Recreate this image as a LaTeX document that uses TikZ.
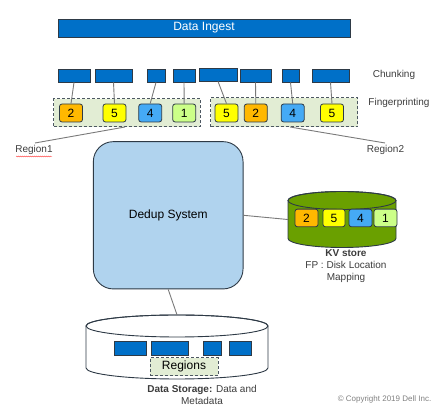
\documentclass[tikz,border=0pt]{standalone}
\usepackage{fontspec}
\setmainfont{Liberation Sans}
\usetikzlibrary{decorations.pathmorphing}
\definecolor{chunkblue}{HTML}{0070C8}
\definecolor{boxborder}{HTML}{2E3A46}
\definecolor{fporange}{HTML}{FFB800}
\definecolor{fpyellow}{HTML}{FFFF00}
\definecolor{fpblue}{HTML}{45AAF5}
\definecolor{fpgreen}{HTML}{CCFF88}
\definecolor{regiongreen}{HTML}{E2EDD4}
\definecolor{dedupblue}{HTML}{B0D3EE}
\definecolor{kvgreen}{HTML}{6AA000}
\definecolor{linegray}{HTML}{7A7A7A}
\definecolor{labelgray}{HTML}{3C3C3C}
\newcommand{\px}[1]{\fontsize{#1}{12}\selectfont}
\begin{document}
\begin{tikzpicture}[x=1pt,y=-1pt,
  chunkbox/.style={draw=boxborder, fill=chunkblue, line width=0.8pt, inner sep=0pt, minimum height=13pt},
  fpbox/.style={draw=boxborder, line width=0.8pt, rounded corners=2.5pt, inner sep=0pt, minimum width=23pt, minimum height=18pt, font=\px{12}},
  regionbox/.style={draw=boxborder!85, fill=regiongreen, line width=1pt, dash pattern=on 3pt off 2pt, inner sep=0pt},
  conn/.style={draw=linegray, line width=0.9pt},
  lbl/.style={inner sep=0pt, text=labelgray, font=\px{10}},
]
\useasboundingbox (0,0) rectangle (440,411);

% Data ingest
\node[chunkbox, minimum width=292pt, minimum height=18pt, text=white, font=\px{12}] (ingest) at (204,28) {Data Ingest};

% Chunks
\node[chunkbox, minimum width=32pt] (c1) at (74,75.5) {};
\node[chunkbox, minimum width=37pt] (c2) at (113.5,75.5) {};
\node[chunkbox, minimum width=18pt] (c3) at (156,75.5) {};
\node[chunkbox, minimum width=22pt] (c4) at (184,75.5) {};
\node[chunkbox, minimum width=38pt] (c5) at (218,74.5) {};
\node[chunkbox, minimum width=31pt] (c6) at (255.5,75.5) {};
\node[chunkbox, minimum width=17pt] (c7) at (290.5,75.5) {};
\node[chunkbox, minimum width=37pt] (c8) at (330.5,75.5) {};
\node[lbl] (chunking) at (394,75) {Chunking};

% Regions
\node[regionbox, minimum width=146.3pt, minimum height=28.3pt] (r1) at (126.85,112.85) {};
\node[regionbox, minimum width=147pt, minimum height=29.3pt] (r2) at (284.2,112.35) {};
\node[lbl] (fingerprinting) at (399,103) {Fingerprinting};

% Fingerprints
\node[fpbox, fill=fporange] (f1) at (71,113) {2};
\node[fpbox, fill=fpyellow] (f2) at (114.5,113) {5};
\node[fpbox, fill=fpblue] (f3) at (150.2,113) {4};
\node[fpbox, fill=fpgreen] (f4) at (184.2,113) {1};
\node[fpbox, fill=fpyellow] (f5) at (226.5,113) {5};
\node[fpbox, fill=fporange] (f6) at (255.8,113) {2};
\node[fpbox, fill=fpblue] (f7) at (292.7,113) {4};
\node[fpbox, fill=fpyellow] (f8) at (332,113) {5};

\draw[conn] (c1.south) -- (f1.north);
\draw[conn] (c2.south) -- (f2.north);
\draw[conn] (c3.south) -- (f3.north);
\draw[conn] (c4.south) -- (f4.north);
\draw[conn] (c5.south) -- (f5.north);
\draw[conn] (c6.south) -- (f6.north);
\draw[conn] (c7.south) -- (f7.north);
\draw[conn] (c8.south) -- (f8.north);

% Region labels
\node[lbl] (reg1) at (34,150) {Region1};
\node[lbl] (reg2) at (385.5,150) {Region2};
\coordinate (reg1top) at (35,143);
\coordinate (reg2top) at (385,143);
\coordinate (r1bot) at (125,127);
\coordinate (r2bot) at (290,127);
\draw[conn] (r1bot) -- (reg1top);
\draw[conn] (r2bot) -- (reg2top);
\draw[red!80, line width=0.35pt, decorate, decoration={snake, amplitude=0.5pt, segment length=2pt}] (16,156.5) -- (52,156.5);

% Dedup system
\node[draw=boxborder, fill=dedupblue, line width=0.9pt, rounded corners=20pt, minimum width=149.7pt, minimum height=147.3pt, inner sep=0pt, font=\px{12}] (dedup) at (168.2,215.3) {Dedup System};

% KV store cylinder
\node[minimum width=108pt, minimum height=56pt, inner sep=0pt] (kv) at (342,219.5) {};
\path[draw=boxborder, fill=kvgreen, line width=0.9pt]
  (288,200.5) -- (288,238.5)
  arc[start angle=180, end angle=360, x radius=54pt, y radius=9pt]
  -- (396,200.5)
  arc[start angle=0, end angle=180, x radius=54pt, y radius=9pt] -- cycle;
\draw[boxborder, line width=0.9pt] (342,200.5) ellipse [x radius=54pt, y radius=9pt];
\node[fpbox, fill=fporange, minimum height=17.7pt] (k1) at (306.5,218) {2};
\node[fpbox, fill=fpyellow, minimum height=17.7pt, minimum width=22pt] (k2) at (334,218) {5};
\node[fpbox, fill=fpblue, minimum height=17.7pt] (k3) at (360.5,218) {4};
\node[fpbox, fill=fpgreen, minimum height=17.7pt] (k4) at (385.5,218) {1};
\draw[conn] (dedup.east) -- (kv.west);
\node[lbl, align=center, text=labelgray] (kvlabel) at (346,266) {\textbf{KV store}\\FP : Disk Location\\Mapping};

% Data storage cylinder
\node[minimum width=182pt, minimum height=64pt, inner sep=0pt] (st) at (177,347) {};
\path[draw=boxborder, fill=white, line width=0.9pt]
  (86,326) -- (86,368)
  arc[start angle=180, end angle=360, x radius=91pt, y radius=11pt]
  -- (268,326)
  arc[start angle=0, end angle=180, x radius=91pt, y radius=11pt] -- cycle;
\draw[boxborder, line width=0.9pt] (177,326) ellipse [x radius=91pt, y radius=11pt];
\draw[conn] (dedup.south) -- (st.north);
\node[chunkbox, minimum width=32pt, minimum height=13.3pt] (s1) at (130,348.3) {};
\node[chunkbox, minimum width=37pt, minimum height=13.3pt] (s2) at (169.5,348.3) {};
\node[chunkbox, minimum width=18pt, minimum height=13.3pt] (s3) at (212,348.3) {};
\node[chunkbox, minimum width=22pt, minimum height=13.3pt] (s4) at (240,348.3) {};
\node[regionbox, minimum width=68pt, minimum height=17.7pt, font=\px{12}] (regions) at (184,366.8) {Regions};
\node[lbl, align=center] (stlabel) at (202,395) {\textbf{Data Storage:} Data and\\Metadata};

% Copyright
\node[inner sep=0pt, text=black!50, font=\px{8}] (copy) at (384.5,399) {© Copyright 2019 Dell Inc.};
\end{tikzpicture}
\end{document}
